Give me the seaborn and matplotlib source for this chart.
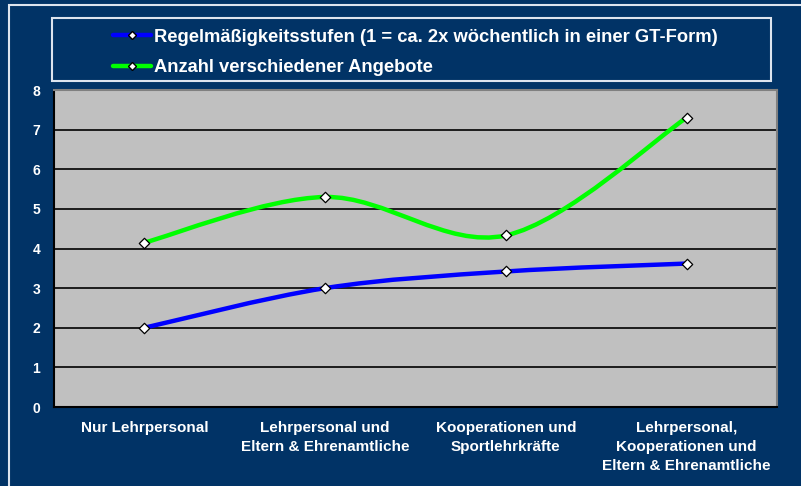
import matplotlib.pyplot as plt
import seaborn as sns
import pandas as pd
import numpy as np
from matplotlib.path import Path
from matplotlib.patches import PathPatch, Rectangle
from matplotlib.lines import Line2D

categories = [
    "Nur Lehrpersonal",
    "Lehrpersonal und\nEltern & Ehrenamtliche",
    "Kooperationen und\nSportlehrkräfte",
    "Lehrpersonal,\nKooperationen und\nEltern & Ehrenamtliche",
]
regelmaessigkeit = [2.0, 3.0, 3.42, 3.62]
angebote = [4.15, 5.3, 4.33, 7.3]
series_names = [
    "Regelmäßigkeitsstufen (1 = ca. 2x wöchentlich in einer GT-Form)",
    "Anzahl verschiedener Angebote",
]
series_colors = ["#0000FF", "#00FF00"]
y_ticks = list(range(0, 9))

bg = "#013366"
sns.set_theme(style="white")
plt.rcParams['font.family'] = ['Liberation Sans', 'DejaVu Sans']
plt.rcParams['font.weight'] = 'bold'

df = pd.DataFrame({
    "x": list(range(len(categories))) * 2,
    "y": regelmaessigkeit + angebote,
    "serie": [series_names[0]] * 4 + [series_names[1]] * 4,
})

fig = plt.figure(figsize=(8.01, 4.86), dpi=100, facecolor=bg)
ax = fig.add_axes([54 / 801, 1 - 407 / 486, 723 / 801, 317 / 486])
ax.set_facecolor("#C0C0C0")


def smooth_path(xs, ys):
    # Excel-style smoothed line: cubic Bezier through each point
    pts = np.column_stack([xs, ys]).astype(float)
    n = len(pts)
    verts = [pts[0]]
    codes = [Path.MOVETO]
    for i in range(n - 1):
        p_prev = pts[max(i - 1, 0)]
        p0, p1 = pts[i], pts[i + 1]
        p_next = pts[min(i + 2, n - 1)]
        c1 = p0 + (p1 - p_prev) / 6
        c2 = p1 - (p_next - p0) / 6
        verts += [c1, c2, p1]
        codes += [Path.CURVE4] * 3
    return Path(verts, codes)


for name, color in zip(series_names, series_colors):
    sub = df[df["serie"] == name]
    ax.add_patch(PathPatch(smooth_path(sub["x"], sub["y"]), facecolor="none",
                           edgecolor=color, lw=3.2, zorder=3, capstyle="round"))

sns.scatterplot(data=df, x="x", y="y", marker="D", color="white", edgecolor="black",
                linewidth=0.9, s=28, ax=ax, zorder=4, legend=False)

ax.set_xlim(-0.5, 3.5)
ax.set_ylim(0, 8)
ax.set_yticks(y_ticks)
ax.yaxis.grid(True, color="black", lw=1.2)
ax.set_axisbelow(True)
ax.set_xticks([-0.5, 0.5, 1.5, 2.5, 3.5])
ax.set_xticklabels([])
ax.set_xticks(range(len(categories)), minor=True)
ax.set_xticklabels(categories, minor=True, color="white", fontsize=11,
                   fontweight="bold", linespacing=1.45, va="top")
ax.tick_params(axis="x", which="major", length=4, width=1, color="black", direction="in", pad=0)
ax.tick_params(axis="x", which="minor", length=0, pad=10)
ax.tick_params(axis="y", length=4, width=1, color="black", labelcolor="white",
               labelsize=10, pad=6)
for lbl in ax.get_yticklabels():
    lbl.set_fontweight("bold")
ax.set_xlabel("")
ax.set_ylabel("")
for side in ["left", "bottom"]:
    ax.spines[side].set_color("black")
    ax.spines[side].set_linewidth(1.5)
for side in ["top", "right"]:
    ax.spines[side].set_color("#808080")
    ax.spines[side].set_linewidth(1.5)

# outer frame and legend frame
fig.patches.append(Rectangle((9 / 801, -0.05), 1.0, 1 - 5 / 486 + 0.05,
                             transform=fig.transFigure, fill=False,
                             edgecolor="#DDE4EE", lw=1.5))
fig.patches.append(Rectangle((52 / 801, 1 - 81 / 486), 719 / 801, 63 / 486,
                             transform=fig.transFigure, fill=False,
                             edgecolor="#DDE4EE", lw=1.5))

handles = [Line2D([], [], color=c, lw=3.2, marker="D", markerfacecolor="white",
                  markeredgecolor="black", markersize=4.5) for c in series_colors]
fig.legend(handles, series_names, loc="upper left",
           bbox_to_anchor=(100 / 801, 1 - 16 / 486), frameon=False,
           labelcolor="white", prop={"weight": "bold", "size": 13.2},
           handlelength=2.1, handletextpad=0.15, labelspacing=0.72,
           borderpad=0.2)

plt.savefig("out.png", dpi=100, facecolor=bg)
plt.close()
